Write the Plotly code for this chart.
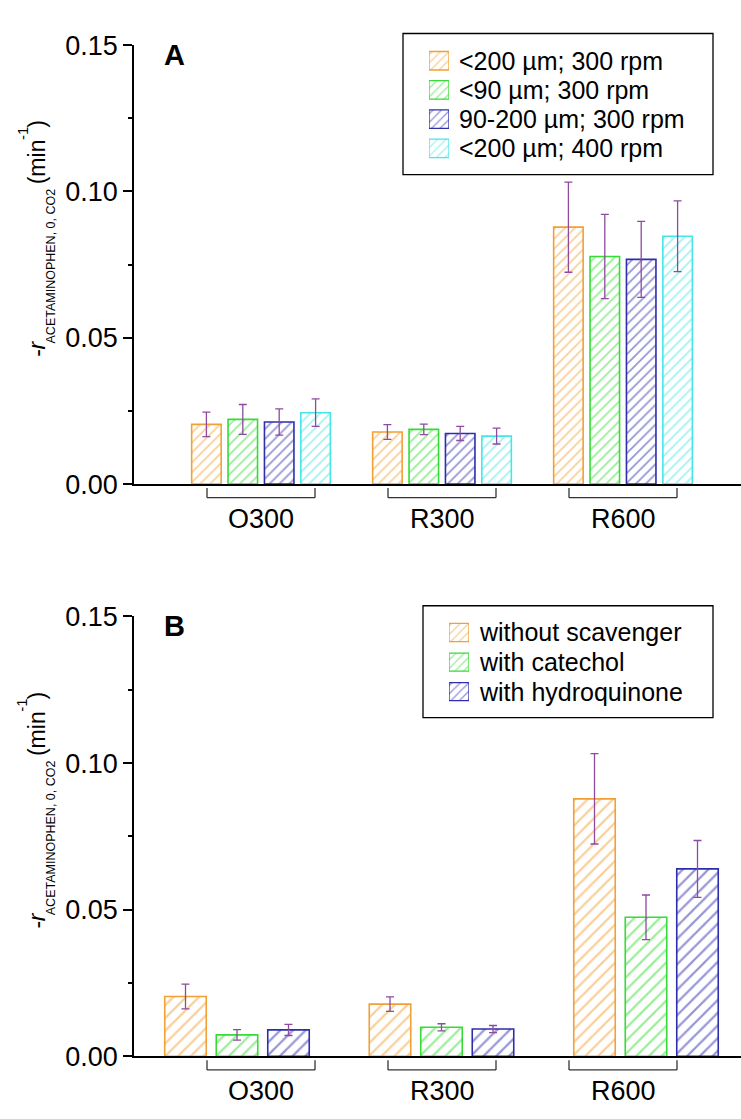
import plotly.graph_objects as go

# ---------------- data ----------------
categories = ["O300", "R300", "R600"]

a_names = ["<200 µm; 300 rpm", "<90 µm; 300 rpm", "90-200 µm; 300 rpm", "<200 µm; 400 rpm"]
a_lt200_300 = [0.0204, 0.0178, 0.0878]
a_lt200_300_err = [0.0042, 0.0025, 0.0154]
a_lt90_300 = [0.0221, 0.0187, 0.0778]
a_lt90_300_err = [0.0051, 0.0018, 0.0144]
a_90_200_300 = [0.0212, 0.0173, 0.0768]
a_90_200_300_err = [0.0045, 0.0024, 0.0130]
a_lt200_400 = [0.0244, 0.0164, 0.0847]
a_lt200_400_err = [0.0047, 0.0027, 0.0121]

b_names = ["without scavenger", "with catechol", "with hydroquinone"]
b_without = [0.0204, 0.0178, 0.0878]
b_without_err = [0.0042, 0.0025, 0.0154]
b_catechol = [0.0073, 0.0099, 0.0474]
b_catechol_err = [0.0018, 0.0012, 0.0076]
b_hydroquinone = [0.0090, 0.0093, 0.0639]
b_hydroquinone_err = [0.0019, 0.0012, 0.0097]

y_tickvals = [0.0, 0.05, 0.10, 0.15]
y_ticktext = ["0.00", "0.05", "0.10", "0.15"]
y_minor_tickvals = [0.025, 0.075, 0.125]
panel_labels = ["A", "B"]

# y-axis title pieces: (text, role) read bottom-to-top
y_title_parts = [("-", "main"), ("r", "main-italic"), ("ACETAMINOPHEN, 0, CO2", "sub"),
                 (" ", "gap"), ("(min", "main"), ("-1", "sup"), (")", "main")]

# ---------------- style / layout ----------------
ORANGE = "#F2A035"
GREEN = "#35DC35"
BLUE = "#2E2EAD"
CYAN = "#45E6E6"
ERR = "#8E4A9E"
FONT = "Liberation Sans, Arial, sans-serif"

W, H = 741, 1119
AX_LEFT = 134

def px(x):
    return x / W

def py(y):
    return 1 - y / H

# approximate Arial advance widths (em) for laying out the rotated title pieces
ADV = {"A": .667, "C": .722, "E": .667, "T": .611, "M": .833, "I": .278, "N": .722,
       "O": .778, "P": .667, "H": .722, ",": .278, " ": .278, "0": .556, "1": .556,
       "2": .556, "(": .333, ")": .333, "m": .833, "i": .222, "n": .556, "-": .333, "r": .333}

def text_len(s, size):
    return sum(ADV.get(c, .556) for c in s) * size

TITLE_SIZES = {"main": 23, "main-italic": 23, "sub": 12.5, "sup": 15, "gap": 23}
TITLE_X = {"main": 37, "main-italic": 37, "sub": 50.5, "sup": 22}

panels = [
    dict(zero=482, top=31, c0=261, step=181, bar_w=29.5, slot=36.4, hatch=7,
         names=a_names,
         series=[a_lt200_300, a_lt90_300, a_90_200_300, a_lt200_400],
         errs=[a_lt200_300_err, a_lt90_300_err, a_90_200_300_err, a_lt200_400_err],
         colors=[ORANGE, GREEN, BLUE, CYAN],
         leg_box=(403, 19, 713, 164), leg_sw_x=(429, 449), leg_rows=(47, 30), leg_sw_h=19),
    dict(zero=1070, top=618, c0=237, step=204.5, bar_w=41.5, slot=51.5, hatch=9,
         names=b_names,
         series=[b_without, b_catechol, b_hydroquinone],
         errs=[b_without_err, b_catechol_err, b_hydroquinone_err],
         colors=[ORANGE, GREEN, BLUE],
         leg_box=(423, 607, 713, 722), leg_sw_x=(449, 469), leg_rows=(634.5, 30.4), leg_sw_h=18.6),
]

fig = go.Figure()
layout = dict(
    width=W, height=H, margin=dict(l=0, r=0, t=0, b=0),
    paper_bgcolor="white", plot_bgcolor="white",
    barmode="overlay", showlegend=False,
    font=dict(family=FONT, color="black", size=16),
)
shapes = []
annotations = []

for p_i, P in enumerate(panels):
    n = p_i + 1
    xa = "x" if n == 1 else f"x{n}"
    ya = "y" if n == 1 else f"y{n}"
    xkey = "xaxis" if n == 1 else f"xaxis{n}"
    ykey = "yaxis" if n == 1 else f"yaxis{n}"
    step = P["step"]
    xr = [(AX_LEFT - P["c0"]) / step, (W - P["c0"]) / step]
    layout[xkey] = dict(domain=[px(AX_LEFT), 1], range=xr, type="category",
                        categoryorder="array", categoryarray=categories,
                        showticklabels=False, ticks="", showgrid=False, zeroline=False,
                        showline=True, linecolor="black", linewidth=1.5, anchor=ya,
                        fixedrange=True)
    layout[ykey] = dict(domain=[py(P["zero"]), py(P["top"])], range=[0, 0.15],
                        tickmode="array", tickvals=y_tickvals, ticktext=y_ticktext,
                        ticks="outside", ticklen=9, tickwidth=1.5, tickcolor="black",
                        tickfont=dict(size=27, family=FONT, color="black"),
                        minor=dict(tickmode="array", tickvals=y_minor_tickvals,
                                   ticks="outside", ticklen=4, tickwidth=1.5, tickcolor="black"),
                        showgrid=False, zeroline=False, showline=True, linecolor="black",
                        linewidth=1.5, anchor=xa, fixedrange=True)

    k = len(P["series"])
    w_u = P["bar_w"] / step
    s_u = P["slot"] / step
    for i, (vals, errs, col, name) in enumerate(zip(P["series"], P["errs"], P["colors"], P["names"])):
        center = (i - (k - 1) / 2) * s_u
        fig.add_trace(go.Bar(
            x=categories, y=vals, name=name, xaxis=xa, yaxis=ya,
            width=w_u, offset=center - w_u / 2,
            marker=dict(color="white",
                        line=dict(color=col, width=1.6),
                        pattern=dict(shape="/", fgcolor=col, bgcolor="white",
                                     size=P["hatch"], solidity=0.25)),
            error_y=dict(type="data", array=errs, visible=True, color=ERR,
                         thickness=1.3, width=4),
            showlegend=False, hoverinfo="skip",
        ))

    # brackets and group labels (aligned to panel A category positions)
    half = 54 / panels[0]["step"]
    yb0 = py(P["zero"] + 4)
    yb1 = py(P["zero"] + 14)
    for ci, cat in enumerate(categories):
        for (x0, y0, x1, y1) in [(ci - half, yb0, ci - half, yb1),
                                 (ci - half, yb1, ci + half, yb1),
                                 (ci + half, yb1, ci + half, yb0)]:
            shapes.append(dict(type="line", xref="x", yref="paper",
                               x0=x0, y0=y0, x1=x1, y1=y1,
                               line=dict(color="#333333", width=1.3)))
        annotations.append(dict(x=cat, xref="x", y=py(P["zero"] + 36), yref="paper",
                                text=cat, showarrow=False, xanchor="center", yanchor="middle",
                                font=dict(size=27, family=FONT, color="black")))

    # panel letter
    annotations.append(dict(x=px(174), y=py(P["top"] + 10), xref="paper", yref="paper",
                            text=panel_labels[p_i], showarrow=False,
                            xanchor="center", yanchor="middle",
                            font=dict(size=29, family=FONT, color="black", weight="bold")))

    # y-axis title, laid out piece by piece (rotated, bottom to top)
    lens = [text_len(t, TITLE_SIZES[r]) for t, r in y_title_parts]
    y_cursor = (P["zero"] + P["top"]) / 2 - 27 + sum(lens) / 2
    for (t, role), L in zip(y_title_parts, lens):
        if role != "gap":
            annotations.append(dict(
                x=px(TITLE_X[role]), y=py(y_cursor - L / 2), xref="paper", yref="paper",
                text=t, textangle=-90, showarrow=False, xanchor="center", yanchor="middle",
                borderpad=0,
                font=dict(size=TITLE_SIZES[role], family=FONT, color="black",
                          style="italic" if role == "main-italic" else "normal")))
        y_cursor -= L

    # legend: box, swatches on a hidden axis pair, labels
    bx0, by0, bx1, by1 = P["leg_box"]
    shapes.append(dict(type="rect", xref="paper", yref="paper",
                       x0=px(bx0), x1=px(bx1), y0=py(by0), y1=py(by1),
                       line=dict(color="black", width=1.3), fillcolor="rgba(0,0,0,0)"))
    ln = 2 + n
    lxa, lya = f"x{ln}", f"y{ln}"
    r0, rs = P["leg_rows"]
    layout[f"xaxis{ln}"] = dict(domain=[px(P["leg_sw_x"][0]), px(P["leg_sw_x"][1])],
                                range=[0, 1], visible=False, fixedrange=True, anchor=lya)
    layout[f"yaxis{ln}"] = dict(domain=[py(r0 + (k - 0.5) * rs), py(r0 - 0.5 * rs)],
                                range=[k - 0.5, -0.5], visible=False, fixedrange=True, anchor=lxa)
    for i, (col, name) in enumerate(zip(P["colors"], P["names"])):
        fig.add_trace(go.Bar(
            x=[1], y=[i], base=0, orientation="h", width=P["leg_sw_h"] / rs,
            xaxis=lxa, yaxis=lya,
            marker=dict(color="white", line=dict(color=col, width=1.3),
                        pattern=dict(shape="/", fgcolor=col, bgcolor="white", size=6, solidity=0.22)),
            showlegend=False, hoverinfo="skip",
        ))
        annotations.append(dict(x=1, xref=lxa, y=i, yref=lya, text=name, showarrow=False,
                                xanchor="left", yanchor="middle", xshift=8,
                                font=dict(size=25, family=FONT, color="black")))

layout["shapes"] = shapes
layout["annotations"] = annotations
fig.update_layout(**layout)

fig.write_html("out.html", config={"displayModeBar": False},
               post_script="document.body.style.margin='0';document.body.style.overflow='hidden';")
